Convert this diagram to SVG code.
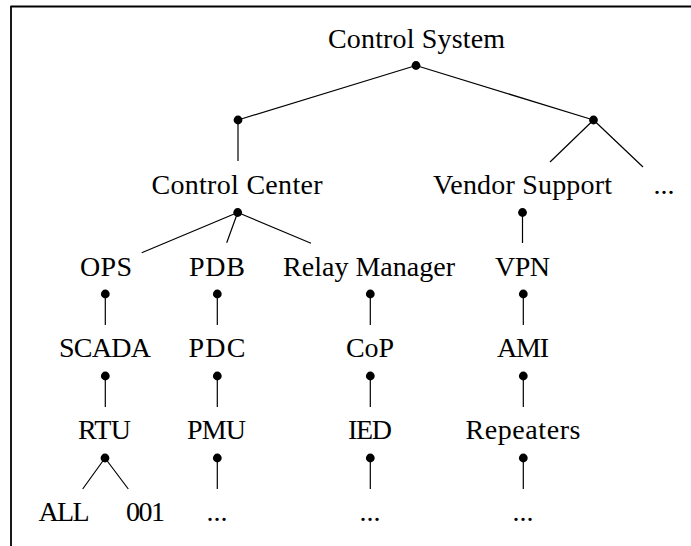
<svg xmlns="http://www.w3.org/2000/svg" width="691" height="546" viewBox="0 0 691 546">
  <style>
    .lbl { font-family: "Liberation Serif"; font-size: 28px; fill: #000; text-anchor: middle; }
    .edge { stroke: #000; stroke-width: 1.2; fill: none; }
    .frame { stroke: #000; stroke-width: 1.8; fill: none; }
    .dot { fill: #000; }
  </style>

  <rect width="691" height="546" fill="#fff"/>

  <!-- frame: top rule and left rule -->
  <path class="frame" d="M10.5 6.5 H691 M11 6 V546"/>

  <!-- connectors -->
  <g id="connectors">
    <path class="edge" d="M416 65.5 L238 120 M416 65.5 L593.5 120"/>
    <path class="edge" d="M238 120 V161"/>
    <path class="edge" d="M593.5 120 L550 162 M593.5 120 L643 167"/>
    <path class="edge" d="M237.7 212.5 L141.7 252.7 M237.7 212.5 L226.7 242.7 M237.7 212.5 L311 243.3"/>
    <path class="edge" d="M522.5 212.5 V243"/>
    <path class="edge" d="M105.3 294 V325 M217.3 294 V325 M370.3 294 V325 M523.3 294 V325"/>
    <path class="edge" d="M105.3 376 V407 M217.3 376 V407 M370.3 376 V407 M523.3 376 V407"/>
    <path class="edge" d="M105 458 L82.7 489 M105 458 L128.3 489"/>
    <path class="edge" d="M217.3 458 V489 M370.3 458 V489 M523.3 458 V489"/>
  </g>

  <!-- nodes -->
  <g id="control-system">
    <text class="lbl" x="416.5" y="48" textLength="177" lengthAdjust="spacing">Control System</text>
    <circle class="dot" cx="416" cy="65.5" r="4.4"/>
  </g>
  <g id="branch-left">
    <circle class="dot" cx="238" cy="120" r="4.4"/>
  </g>
  <g id="branch-right">
    <circle class="dot" cx="593.5" cy="120" r="4.4"/>
  </g>
  <g id="control-center">
    <text class="lbl" x="237" y="193.5" textLength="171" lengthAdjust="spacing">Control Center</text>
    <circle class="dot" cx="237.7" cy="212.5" r="4.4"/>
  </g>
  <g id="vendor-support">
    <text class="lbl" x="522.5" y="193.5" textLength="179" lengthAdjust="spacing">Vendor Support</text>
    <circle class="dot" cx="522.5" cy="212.5" r="4.4"/>
  </g>
  <g id="more-top">
    <text class="lbl" x="664" y="193.5">...</text>
  </g>

  <g id="ops">
    <text class="lbl" x="106" y="275.5" textLength="52" lengthAdjust="spacing">OPS</text>
    <circle class="dot" cx="105.3" cy="294" r="4.4"/>
  </g>
  <g id="pdb">
    <text class="lbl" x="217" y="275.5" textLength="56" lengthAdjust="spacing">PDB</text>
    <circle class="dot" cx="217.3" cy="294" r="4.4"/>
  </g>
  <g id="relay-manager">
    <text class="lbl" x="369" y="275.5" textLength="172" lengthAdjust="spacing">Relay Manager</text>
    <circle class="dot" cx="370.3" cy="294" r="4.4"/>
  </g>
  <g id="vpn">
    <text class="lbl" x="522.5" y="275.5" textLength="55" lengthAdjust="spacing">VPN</text>
    <circle class="dot" cx="523.3" cy="294" r="4.4"/>
  </g>

  <g id="scada">
    <text class="lbl" x="105" y="357" textLength="92" lengthAdjust="spacing">SCADA</text>
    <circle class="dot" cx="105.3" cy="376" r="4.4"/>
  </g>
  <g id="pdc">
    <text class="lbl" x="217" y="357" textLength="57" lengthAdjust="spacing">PDC</text>
    <circle class="dot" cx="217.3" cy="376" r="4.4"/>
  </g>
  <g id="cop">
    <text class="lbl" x="370" y="357" textLength="48" lengthAdjust="spacing">CoP</text>
    <circle class="dot" cx="370.3" cy="376" r="4.4"/>
  </g>
  <g id="ami">
    <text class="lbl" x="523" y="357" textLength="52" lengthAdjust="spacing">AMI</text>
    <circle class="dot" cx="523.3" cy="376" r="4.4"/>
  </g>

  <g id="rtu">
    <text class="lbl" x="104.5" y="438.5" textLength="53" lengthAdjust="spacing">RTU</text>
    <circle class="dot" cx="105" cy="458" r="4.4"/>
  </g>
  <g id="pmu">
    <text class="lbl" x="216.5" y="438.5" textLength="59" lengthAdjust="spacing">PMU</text>
    <circle class="dot" cx="217.3" cy="458" r="4.4"/>
  </g>
  <g id="ied">
    <text class="lbl" x="370" y="438.5" textLength="44" lengthAdjust="spacing">IED</text>
    <circle class="dot" cx="370.3" cy="458" r="4.4"/>
  </g>
  <g id="repeaters">
    <text class="lbl" x="523" y="438.5" textLength="115" lengthAdjust="spacing">Repeaters</text>
    <circle class="dot" cx="523.3" cy="458" r="4.4"/>
  </g>

  <g id="all">
    <text class="lbl" x="64" y="520.5" textLength="51" lengthAdjust="spacing">ALL</text>
  </g>
  <g id="n001">
    <text class="lbl" x="145.5" y="520.5" textLength="39" lengthAdjust="spacing">001</text>
  </g>
  <g id="more-pmu">
    <text class="lbl" x="217" y="520.5">...</text>
  </g>
  <g id="more-ied">
    <text class="lbl" x="370" y="520.5">...</text>
  </g>
  <g id="more-repeaters">
    <text class="lbl" x="523" y="520.5">...</text>
  </g>
</svg>
